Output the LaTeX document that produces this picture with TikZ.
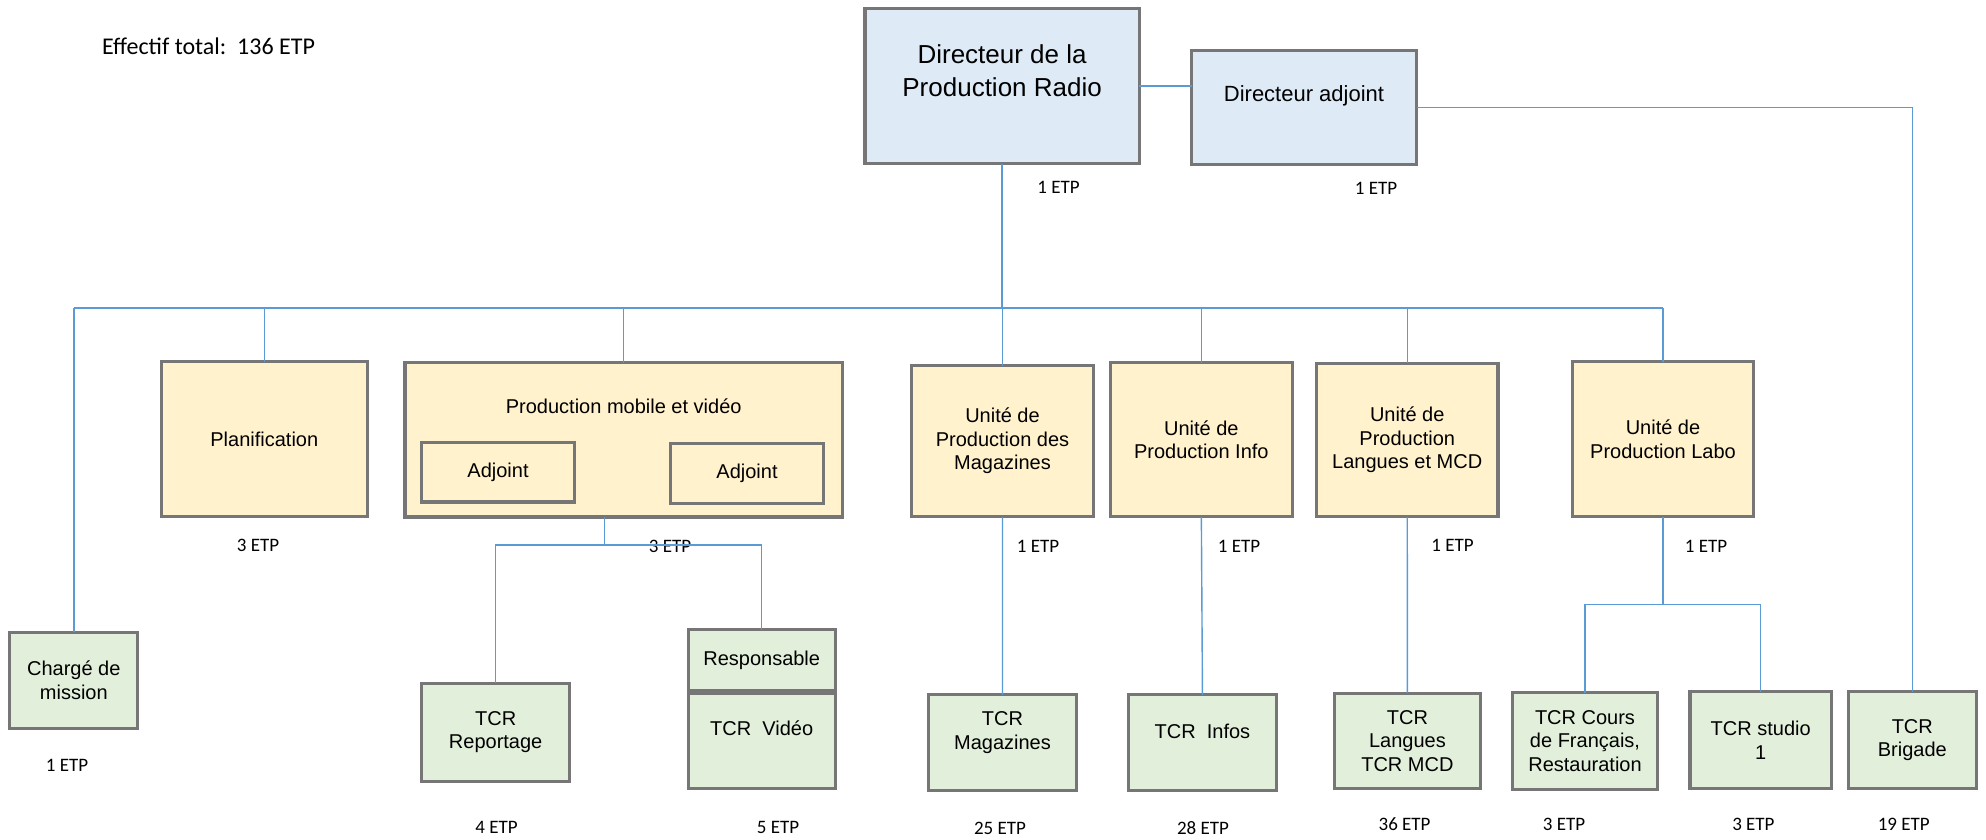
\documentclass[tikz,border=0pt]{standalone}
\usepackage{fontspec}
\newfontfamily\arialf{Liberation Sans}
\newfontfamily\calf{Carlito}
\definecolor{bluefill}{HTML}{DEEBF7}
\definecolor{yellowfill}{HTML}{FFF2CC}
\definecolor{greenfill}{HTML}{E2EFDA}
\definecolor{boxborder}{HTML}{767676}
\definecolor{linkblue}{HTML}{5B9BD5}
\tikzset{
  basebox/.style={draw=boxborder, line width=3.2pt, rectangle, inner sep=0pt, outer sep=0pt, align=center,
    font={\arialf\fontsize{20}{23.5}\selectfont}},
  bbox/.style={basebox, fill=bluefill},
  ybox/.style={basebox, fill=yellowfill},
  gbox/.style={basebox, fill=greenfill},
  boxtext/.style={inner sep=0pt, align=center, font={\arialf\fontsize{20}{23.5}\selectfont}},
  etp/.style={inner sep=0pt, anchor=base, font={\calf\fontsize{19}{22}\selectfont}},
  conn/.style={draw=linkblue, line width=1.4pt},
  sz/.style n args={2}{minimum width=#1pt, minimum height=#2pt},
}
\begin{document}
\begin{tikzpicture}[x=1pt,y=-1pt]
\useasboundingbox[fill=white] (0,0) rectangle (1986,839);

% title
\node[inner sep=0pt, anchor=base west, font={\calf\fontsize{24}{28}\selectfont}] (total) at (102,54) {Effectif total:\ \ 136 ETP};

% top level
\node[bbox, sz={274.2}{155.3}] (dir) at (1002.1,85.85) {};
\node[boxtext, font={\arialf\fontsize{26}{32.7}\selectfont}] (dirtxt) at (1002.1,71) {Directeur de la\\Production Radio};
\node[bbox, sz={225}{113.7}] (adj) at (1304,107.35) {};
\node[boxtext, font={\arialf\fontsize{22}{26}\selectfont}] (adjtxt) at (1304,96.2) {Directeur adjoint};

% second level
\node[ybox, sz={206}{155.3}] (plan) at (264.3,439.15) {Planification};
\node[ybox, sz={437.5}{154.5}] (prod) at (623.75,439.75) {};
\node[boxtext, anchor=base] (prodtxt) at (623.7,413.3) {Production mobile et vidéo};
\node[ybox, sz={153}{59.8}] (adjA) at (498,472.1) {Adjoint};
\node[ybox, sz={152.4}{60.3}] (adjB) at (747,473.35) {Adjoint};
\node[ybox, sz={182}{151.3}] (mag) at (1002.5,441.15) {Unité de\\Production des\\Magazines};
\node[ybox, sz={181.7}{154.3}] (info) at (1201.35,439.65) {Unité de\\Production Info};
\node[ybox, sz={181.5}{153.6}] (lang) at (1407.25,440) {Unité de\\Production\\Langues et MCD};
\node[ybox, sz={181.6}{155.3}] (labo) at (1663,439.15) {Unité de\\Production Labo};

% third level
\node[gbox, sz={128}{96.3}] (charge) at (73.8,680.35) {Chargé de\\mission};
\node[gbox, sz={147.7}{98}] (rep) at (495.65,732.2) {TCR\\Reportage};
\node[gbox, sz={147}{95.3}] (video) at (761.7,740.85) {};
\node[boxtext, anchor=base] (videotxt) at (761.7,735) {TCR\ \ Vidéo};
\node[gbox, sz={147}{60.4}] (resp) at (761.7,660) {Responsable};
\node[gbox, sz={147.5}{95.7}] (tmag) at (1002.45,742.65) {};
\node[boxtext] (tmagtxt) at (1002.45,732.8) {TCR\\Magazines};
\node[gbox, sz={147.5}{95.7}] (tinf) at (1202.45,742.65) {};
\node[boxtext, anchor=base] (tinftxt) at (1202.45,738.3) {TCR\ \ Infos};
\node[gbox, sz={146.2}{95.6}] (tlang) at (1407.4,741) {TCR\\Langues\\TCR MCD};
\node[gbox, sz={144.5}{97}] (tcours) at (1585,741) {TCR Cours\\de Français,\\Restauration};
\node[gbox, sz={141.4}{96.4}] (tstudio) at (1760.7,740) {TCR studio\\1};
\node[gbox, sz={127.8}{96.4}] (tbrig) at (1912.3,740) {TCR\\Brigade};

% ETP labels
\node[etp] (e-dir) at (1058.5,193.3) {1 ETP};
\node[etp] (e-adj) at (1376,194.3) {1 ETP};
\node[etp] (e-plan) at (258,551.7) {3 ETP};
\node[etp] (e-prod) at (670,552.7) {3 ETP};
\node[etp] (e-mag) at (1038,552.7) {1 ETP};
\node[etp] (e-info) at (1239,552.7) {1 ETP};
\node[etp] (e-lang) at (1452.5,551.7) {1 ETP};
\node[etp] (e-labo) at (1706,552.7) {1 ETP};
\node[etp] (e-charge) at (67,771.7) {1 ETP};
\node[etp] (e-rep) at (496.5,833) {4 ETP};
\node[etp] (e-video) at (778,833.3) {5 ETP};
\node[etp] (e-tmag) at (1000,834.3) {25 ETP};
\node[etp] (e-tinf) at (1203,834) {28 ETP};
\node[etp] (e-tlang) at (1404.6,830) {36 ETP};
\node[etp] (e-tcours) at (1564,830) {3 ETP};
\node[etp] (e-tstudio) at (1753.4,830) {3 ETP};
\node[etp] (e-tbrig) at (1903.75,830) {19 ETP};

% connectors
\coordinate (bus) at (1002.1,308);
\coordinate (pj) at (604.3,545);
\coordinate (lj) at (1663,604.3);

\draw[conn] (dir.east) -- (dir.east -| adj.west);
\draw[conn] (adj.east) -| (tbrig.north);
\draw[conn, line width=2pt] (dir.south) -- (bus);
\draw[conn] (charge.north |- bus) -- (labo.north |- bus);
\draw[conn] (charge.north |- bus) -- (charge.north);
\draw[conn] (plan.north |- bus) -- (plan.north);
\draw[conn] (prod.north |- bus) -- (prod.north);
\draw[conn] (mag.north |- bus) -- (mag.north);
\draw[conn] (info.north |- bus) -- (info.north);
\draw[conn] (lang.north |- bus) -- (lang.north);
\draw[conn] (labo.north |- bus) -- (labo.north);

\draw[conn] (prod.south -| pj) -- (pj);
\draw[conn] (rep.north) |- (resp.north |- pj) -- (resp.north);
\draw[conn] (mag.south) -- (tmag.north);
\draw[conn] (info.south) -- (tinf.north);
\draw[conn] (lang.south) -- (tlang.north);
\draw[conn] (labo.south) -- (lj);
\draw[conn] (tcours.north) |- (lj) -| (tstudio.north);
\end{tikzpicture}
\end{document}
